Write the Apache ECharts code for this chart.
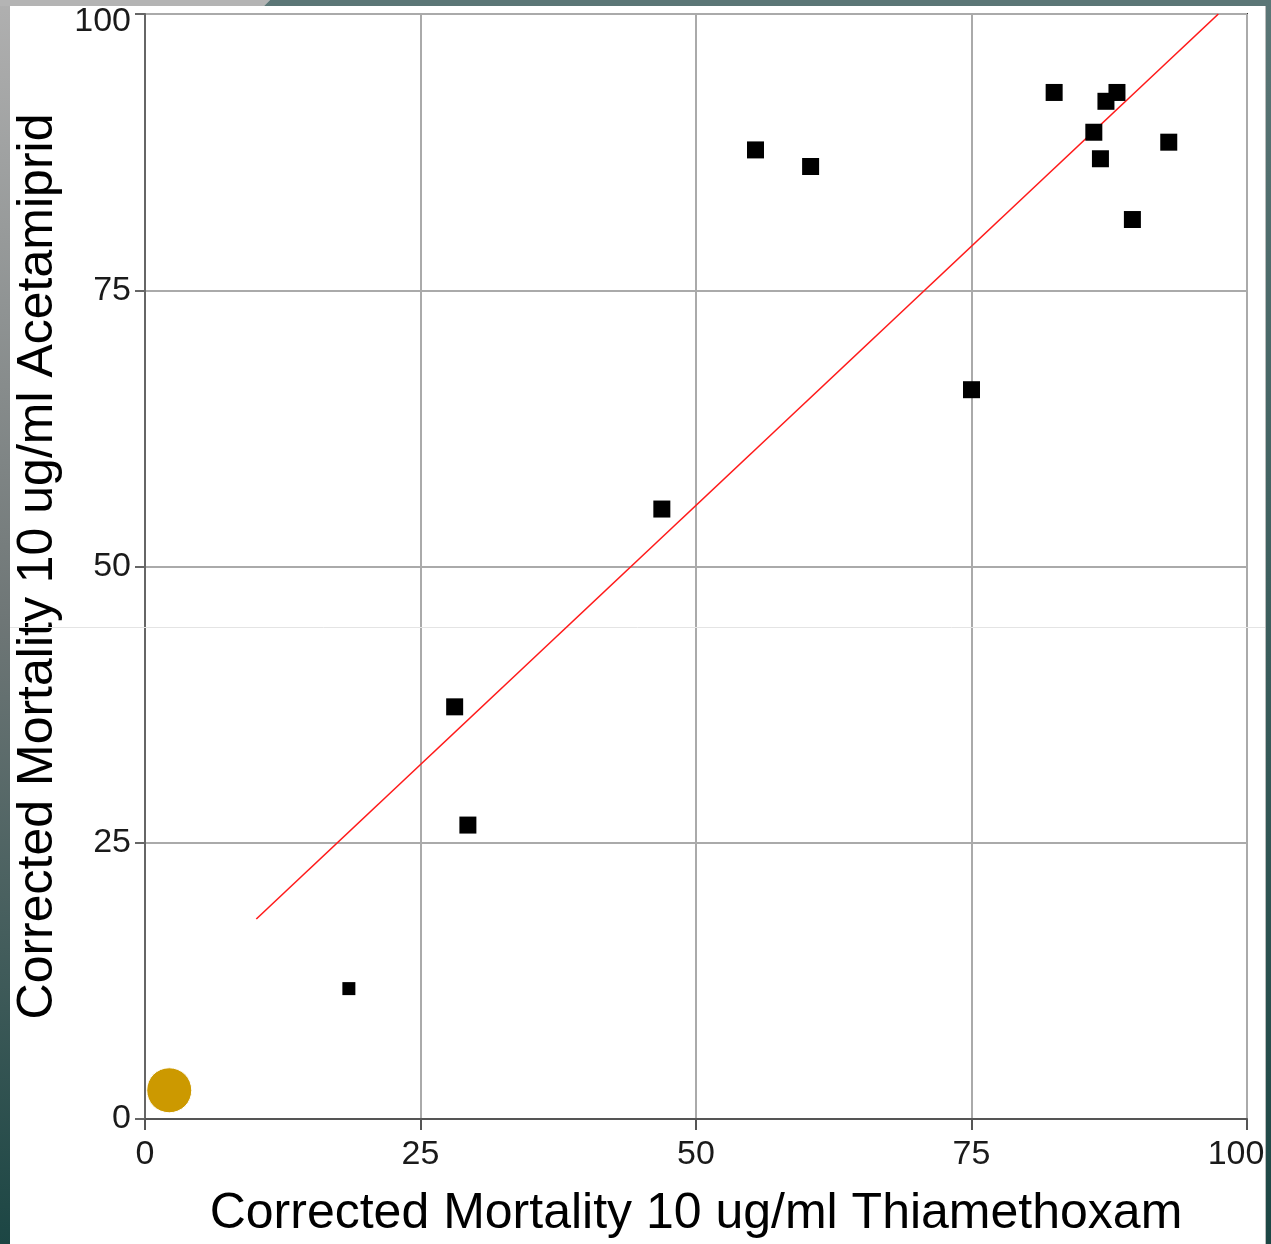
<!DOCTYPE html>
<html>
<head>
<meta charset="utf-8">
<script src="https://cdn.jsdelivr.net/npm/echarts@6/dist/echarts.min.js"></script>
<style>
html,body{margin:0;padding:0;background:#fff;overflow:hidden;}
#chart{width:1271px;height:1244px;}
</style>
</head>
<body>
<div id="chart"></div>
<script>
// Data
var xTitle = 'Corrected Mortality 10 ug/ml Thiamethoxam';
var yTitle = 'Corrected Mortality 10 ug/ml Acetamiprid';
var tickValues = [0, 25, 50, 75, 100];
var thiamethoxam = [18.5, 28.1, 29.3, 46.9, 55.4, 60.4, 75.0, 82.5, 86.1, 86.7, 87.2, 88.2, 89.6, 92.9];
var acetamiprid  = [11.8, 37.3, 26.6, 55.2, 87.7, 86.2, 66.0, 92.9, 89.3, 86.9, 92.1, 92.9, 81.4, 88.4];
var smallPointIndex = 0;
var fitLineX = [10.1, 97.4];
var fitLineY = [18.1, 100];
var highlightX = [2.2];
var highlightY = [2.6];

var points = thiamethoxam.map(function (x, i) {
  return { value: [x, acetamiprid[i]], symbolSize: i === smallPointIndex ? 13 : 17 };
});
var fit = fitLineX.map(function (x, i) { return [x, fitLineY[i]]; });
var highlight = highlightX.map(function (x, i) { return [x, highlightY[i]]; });

var chart = echarts.init(document.getElementById('chart'), null, { renderer: 'canvas' });
var W = 1271, H = 1244;
var labelFont = { fontFamily: 'Liberation Sans', fontSize: 34, color: '#1a1a1a' };
chart.setOption({
  backgroundColor: '#ffffff',
  animation: false,
  grid: { left: 145, top: 14, right: 24, bottom: 125, outerBoundsMode: 'none', containLabel: false,
    show: true, borderColor: '#333', borderWidth: 2, backgroundColor: 'transparent' },
  xAxis: {
    type: 'value', min: 0, max: 100, interval: 25,
    name: xTitle, nameLocation: 'middle', nameGap: 70,
    nameTextStyle: { fontFamily: 'Liberation Sans', fontSize: 50, color: '#000' },
    axisLine: { show: true, onZero: false, lineStyle: { color: '#555', width: 2 } },
    axisTick: { show: true, length: 11, lineStyle: { color: '#555', width: 2 } },
    axisLabel: { fontFamily: 'Liberation Sans', fontSize: 34, color: '#1a1a1a', margin: 19,
      formatter: function (v) { return v === 100 ? '{end|' + v + '}' : String(v); },
      rich: { end: Object.assign({ padding: [0, 22, 0, 0] }, labelFont) } },
    splitLine: { show: true, lineStyle: { color: '#aaa', width: 2 } }
  },
  yAxis: {
    type: 'value', min: 0, max: 100, interval: 25,
    name: yTitle, nameLocation: 'middle', nameGap: 82,
    nameTextStyle: { fontFamily: 'Liberation Sans', fontSize: 50, color: '#000' },
    axisLine: { show: true, onZero: false, lineStyle: { color: '#666', width: 2 } },
    axisTick: { show: true, length: 10, lineStyle: { color: '#666', width: 2 } },
    axisLabel: { fontFamily: 'Liberation Sans', fontSize: 34, color: '#1a1a1a', margin: 14,
      formatter: function (v) { return v === 100 ? '{top|' + v + '}' : String(v); },
      rich: { top: Object.assign({ padding: [15, 0, 0, 0] }, labelFont) } },
    splitLine: { show: true, lineStyle: { color: '#aaa', width: 2 } }
  },
  series: [
    {
      type: 'line', data: fit, symbol: 'none', silent: true,
      lineStyle: { color: '#ff1a1a', width: 1.6 }, z: 3
    },
    {
      type: 'scatter', data: points, symbol: 'rect',
      itemStyle: { color: '#000', opacity: 1 }, z: 4
    },
    {
      type: 'scatter', data: highlight, symbol: 'circle', symbolSize: 45,
      itemStyle: { color: '#cc9900', opacity: 1, borderColor: '#fff', borderWidth: 1 }, z: 5
    }
  ],
  graphic: [
    { type: 'rect', shape: { x: 0, y: 0, width: 10, height: H }, silent: true, z: 100,
      style: { fill: new echarts.graphic.LinearGradient(0, 0, 0, 1, [
        { offset: 0, color: '#b0b0b0' }, { offset: 0.5, color: '#6e7676' }, { offset: 1, color: '#1c4644' }]) } },
    { type: 'polygon', shape: { points: [[0, 0], [270, 0], [264, 6], [0, 6]] }, silent: true, z: 100,
      style: { fill: '#b4b4b4' } },
    { type: 'polygon', shape: { points: [[270, 0], [W, 0], [W, 6], [264, 6]] }, silent: true, z: 100,
      style: { fill: '#5b7676' } },
    { type: 'rect', shape: { x: 1266, y: 0, width: 5, height: H }, silent: true, z: 100,
      style: { fill: new echarts.graphic.LinearGradient(0, 0, 0, 1, [
        { offset: 0, color: '#5b7676' }, { offset: 1, color: '#1c4644' }]) } },
    { type: 'rect', shape: { x: 1265, y: 6, width: 1, height: H }, silent: true, z: 100,
      style: { fill: '#bbbbbb' } },
    { type: 'line', shape: { x1: 10, y1: 627.5, x2: 1265, y2: 627.5 }, silent: true, z: 1,
      style: { stroke: '#e4e4e4', lineWidth: 1 } }
  ]
});
</script>
</body>
</html>
